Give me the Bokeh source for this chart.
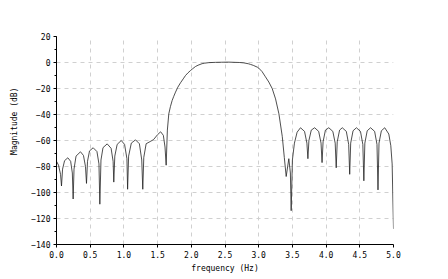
from bokeh.plotting import figure
from bokeh.models import SingleIntervalTicker, NumeralTickFormatter, Range1d
from bokeh.embed import file_html
from bokeh.resources import INLINE

freq = [0.0, 0.03, 0.06, 0.074, 0.09, 0.12, 0.168, 0.21, 0.235, 0.247, 0.26, 0.29, 0.356, 0.40, 0.43,
        0.445, 0.46, 0.49, 0.544, 0.60, 0.63, 0.643, 0.66, 0.69, 0.752, 0.81, 0.84, 0.85, 0.865, 0.90,
        0.96, 1.01, 1.045, 1.055, 1.07, 1.11, 1.172, 1.23, 1.265, 1.28, 1.295, 1.33, 1.40, 1.44, 1.50,
        1.545, 1.585, 1.61, 1.627, 1.645, 1.666, 1.69, 1.716, 1.74, 1.766, 1.80, 1.84, 1.88, 1.914,
        1.95, 1.988, 2.02, 2.062, 2.10, 2.16, 2.20, 2.26,
        2.36, 2.45, 2.55, 2.65, 2.72, 2.78, 2.85, 2.88, 2.92, 2.98, 3.0, 3.05, 3.10, 3.15, 3.20, 3.25,
        3.30, 3.35, 3.38, 3.408, 3.447, 3.47,
        3.482, 3.50, 3.53, 3.57, 3.62, 3.68, 3.715, 3.73, 3.745, 3.78, 3.83, 3.89, 3.925, 3.94, 3.955,
        3.99, 4.04, 4.10, 4.135, 4.15, 4.165, 4.20, 4.24, 4.30, 4.335, 4.35, 4.365, 4.40, 4.45, 4.51,
        4.545, 4.56, 4.575, 4.61, 4.66, 4.72, 4.755, 4.77, 4.785, 4.82, 4.87, 4.93, 4.96, 4.98, 5.0]
mag_db = [-76, -79, -86, -95, -82, -75.5, -73.3, -76, -85, -105, -82, -72, -68.7, -71.5, -80,
          -93, -76, -68, -65.6, -68.5, -78, -109, -75, -65.5, -62.6, -66, -76, -92, -72, -63,
          -60, -63, -74, -97.5, -72, -62, -59.5, -62.5, -75, -97.5, -73, -62.5, -60.5, -59.3, -55.5,
          -53.3, -56, -65, -79, -52, -39.5, -34, -29.2, -26, -22.8, -19, -15.6, -12.6, -10,
          -8, -6.2, -4.8, -3.1, -2.1, -0.9, -0.5, -0.1,
          0.1, 0.2, 0.3, 0.1, 0.0, -0.3, -1.0, -1.5, -2.2, -3.6, -4.3, -7, -11, -15, -20, -28,
          -39.5, -57, -73, -87.7, -74, -85,
          -114, -75, -62, -53.6, -50.2, -53, -62, -74, -60, -52, -50.2, -53, -62, -77, -61,
          -52, -50.2, -53, -62, -81, -61, -52, -50.2, -53, -63, -86, -62, -52.5, -50.2, -53,
          -63, -91, -62, -52.5, -50.2, -53, -63, -98, -62, -52.5, -50.2, -55, -64, -78, -128]

FONT = "DejaVu Sans Mono"

p = figure(width=448, height=279, output_backend="svg", toolbar_location=None,
           min_border_left=56, min_border_right=55, min_border_top=36, min_border_bottom=35,
           x_range=Range1d(0, 5), y_range=Range1d(-140, 20))
p.outline_line_color = None
p.background_fill_color = "white"
p.border_fill_color = "white"

p.line(freq, mag_db, line_color="#222222", line_width=0.8)

p.xaxis.ticker = SingleIntervalTicker(interval=0.5, num_minor_ticks=0)
p.yaxis.ticker = SingleIntervalTicker(interval=20, num_minor_ticks=2)
p.xaxis.formatter = NumeralTickFormatter(format="0.0")
p.xaxis.axis_label = "frequency (Hz)"
# leading no-break spaces push the rotated label upward, as in the reference
p.yaxis.axis_label = "\u00a0" * 8 + "Magnitude (dB)"

for ax in (p.xaxis, p.yaxis):
    ax.major_label_text_font = FONT
    ax.major_label_text_font_size = "8px"
    ax.major_label_text_color = "black"
    ax.axis_label_text_font = FONT
    ax.axis_label_text_font_size = "8px"
    ax.axis_label_text_font_style = "normal"
    ax.axis_label_text_color = "black"
    ax.axis_line_color = "black"
    ax.major_tick_line_color = "black"
    ax.minor_tick_line_color = "black"
    ax.major_tick_out = 3
    ax.major_tick_in = 0
    ax.minor_tick_out = 2
    ax.minor_tick_in = 0
    ax.major_label_standoff = 3
p.xaxis.axis_label_standoff = 3
p.yaxis.axis_label_standoff = 9

for g in (p.xgrid, p.ygrid):
    g.grid_line_color = "#d0d0d0"
    g.grid_line_dash = "4 4"
    g.grid_line_width = 1

open("out.html", "w").write(file_html(p, INLINE))
